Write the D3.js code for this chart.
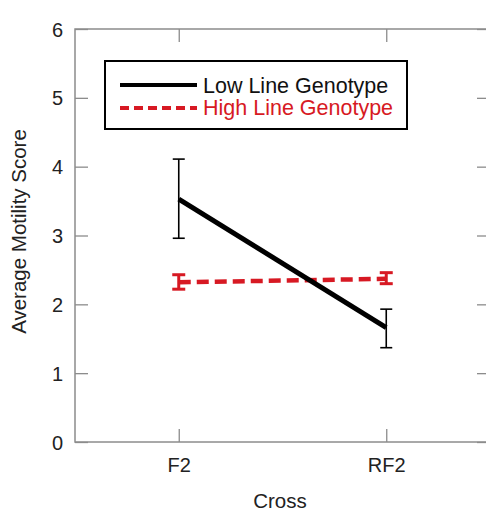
<!DOCTYPE html>
<html><head><meta charset="utf-8">
<script src="https://cdn.jsdelivr.net/npm/d3@7"></script>
<style>body{margin:0;background:#fff}svg{display:block;font-family:"Liberation Sans",Arial,sans-serif}</style>
</head><body><svg id="c" width="486" height="511"></svg>
<script>
const categories = ["F2", "RF2"];
const lowMean = [3.53, 1.66];
const lowLo = [2.96, 1.37];
const lowHi = [4.11, 1.93];
const highMean = [2.32, 2.37];
const highLo = [2.22, 2.30];
const highHi = [2.43, 2.46];
const yTicks = [0, 1, 2, 3, 4, 5, 6];
const seriesNames = ["Low Line Genotype", "High Line Genotype"];

const svg = d3.select("#c");
const L = 75, R = 490, T = 29, B = 442;
const x = d3.scalePoint().domain(categories).range([L, R]).padding(0.5);
const y = d3.scaleLinear().domain([0, 6]).range([B, T]);
const frame = "#8c8c8c";
const FF = "Liberation Sans, Arial, sans-serif";

// frame
svg.append("rect").attr("x", L).attr("y", T).attr("width", R - L).attr("height", B - T)
  .attr("fill", "none").attr("stroke", frame).attr("stroke-width", 1.5);

// axes
const xa = svg.append("g").attr("transform", `translate(0,${B})`)
  .call(d3.axisBottom(x).tickSize(-13).tickPadding(16));
const ya = svg.append("g").attr("transform", `translate(${L},0)`)
  .call(d3.axisLeft(y).tickValues(yTicks).tickSize(-13).tickPadding(12).tickFormat(d3.format("d")));
const xt = svg.append("g").attr("transform", `translate(0,${T})`)
  .call(d3.axisTop(x).tickSize(-13).tickFormat(""));
const yr = svg.append("g").attr("transform", `translate(${R},0)`)
  .call(d3.axisRight(y).tickValues(yTicks).tickSize(-13).tickFormat(""));
[xa, ya, xt, yr].forEach(g => {
  g.select(".domain").remove();
  g.attr("font-family", FF);
  g.selectAll(".tick line").attr("stroke", frame).attr("stroke-width", 1.3);
  g.selectAll("text").attr("fill", "#222");
});
xa.attr("font-size", 20);
ya.attr("font-size", 20);
ya.selectAll("text").attr("dy", "0.35em");

// axis titles
svg.append("text").attr("x", 280).attr("y", 508).attr("text-anchor", "middle")
  .attr("font-size", 20.5).attr("fill", "#222").text("Cross");
svg.append("text").attr("transform", `translate(26,${(T + B) / 2 - 4}) rotate(-90)`)
  .attr("text-anchor", "middle").attr("font-size", 20.5).attr("fill", "#222").text("Average Motility Score");

const red = "#d71923";
const line = d3.line().x((d, i) => x(categories[i])).y(d => y(d));

// high series (red dashed)
svg.append("path").datum(highMean).attr("d", line).attr("fill", "none")
  .attr("stroke", red).attr("stroke-width", 4.5).attr("stroke-dasharray", "12,6");
categories.forEach((c, i) => {
  const g = svg.append("g").attr("stroke", red).attr("stroke-width", 3);
  g.append("line").attr("x1", x(c)).attr("x2", x(c)).attr("y1", y(highLo[i])).attr("y2", y(highHi[i]));
  [highLo[i], highHi[i]].forEach(v => g.append("line").attr("x1", x(c) - 6.5).attr("x2", x(c) + 6.5).attr("y1", y(v)).attr("y2", y(v)));
});

// low series (black solid)
svg.append("path").datum(lowMean).attr("d", line).attr("fill", "none")
  .attr("stroke", "#000").attr("stroke-width", 5);
categories.forEach((c, i) => {
  const g = svg.append("g").attr("stroke", "#000").attr("stroke-width", 1.6);
  g.append("line").attr("x1", x(c)).attr("x2", x(c)).attr("y1", y(lowLo[i])).attr("y2", y(lowHi[i]));
  [lowLo[i], lowHi[i]].forEach(v => g.append("line").attr("x1", x(c) - 6).attr("x2", x(c) + 6).attr("y1", y(v)).attr("y2", y(v)));
});

// legend
const lg = svg.append("g");
lg.append("rect").attr("x", 105).attr("y", 61).attr("width", 302).attr("height", 68)
  .attr("fill", "#fff").attr("stroke", "#000").attr("stroke-width", 2);
lg.append("line").attr("x1", 120).attr("x2", 197).attr("y1", 85).attr("y2", 85)
  .attr("stroke", "#000").attr("stroke-width", 4);
lg.append("line").attr("x1", 120).attr("x2", 197).attr("y1", 108).attr("y2", 108)
  .attr("stroke", red).attr("stroke-width", 4).attr("stroke-dasharray", "9,5");
lg.append("text").attr("x", 203).attr("y", 93).attr("font-size", 21.5).attr("fill", "#111").text(seriesNames[0]);
lg.append("text").attr("x", 203).attr("y", 115).attr("font-size", 21.5).attr("fill", red).text(seriesNames[1]);
</script></body></html>
